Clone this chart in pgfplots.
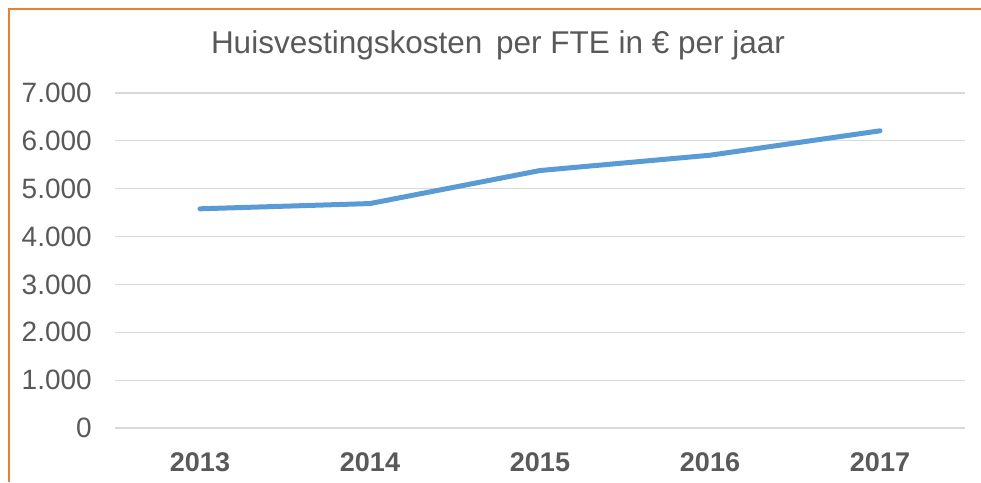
\documentclass[border=0pt]{standalone}
\usepackage{pgfplots}
\pgfplotsset{compat=1.18}
\usepackage{fontspec}
\setmainfont{Liberation Sans}
\definecolor{txt}{HTML}{595959}
\definecolor{gridc}{HTML}{D9D9D9}
\definecolor{serie}{HTML}{5B9BD5}
\definecolor{framec}{HTML}{ED7D31}
\begin{document}
\begin{tikzpicture}[x=1pt,y=1pt]
\path[use as bounding box] (0,0) rectangle (981,482);
\draw[framec, line width=1.5pt] (9,0) -- (9,473) -- (981,473);
\node[txt, font=\fontsize{31.5}{35}\selectfont] at (498,437) {Huisvestingskosten\hspace{5pt} per FTE in € per jaar};
\begin{axis}[
  at={(115pt,54pt)}, anchor=south west,
  scale only axis, width=850pt, height=335pt,
  xmin=-0.5, xmax=4.5, ymin=0, ymax=7000,
  xtick={0,1,2,3,4},
  xticklabels={2013,2014,2015,2016,2017},
  ytick={0,1000,2000,3000,4000,5000,6000,7000},
  yticklabels={0,1.000,2.000,3.000,4.000,5.000,6.000,7.000},
  axis line style={draw=none},
  major tick length=0pt,
  ymajorgrids, grid style={gridc, line width=1.2pt},
  yticklabel style={txt, font=\fontsize{28}{32}\selectfont, anchor=east, inner sep=0pt, xshift=-23pt},
  xticklabel style={txt, font=\bfseries\fontsize{27}{31}\selectfont, anchor=center, inner sep=0pt, yshift=-34pt},
  clip=false,
]
\addplot[serie, line width=5pt, line cap=round, line join=round] coordinates {
  (0,4580) (1,4690) (2,5380) (3,5700) (4,6210)
};
\end{axis}
\end{tikzpicture}
\end{document}
